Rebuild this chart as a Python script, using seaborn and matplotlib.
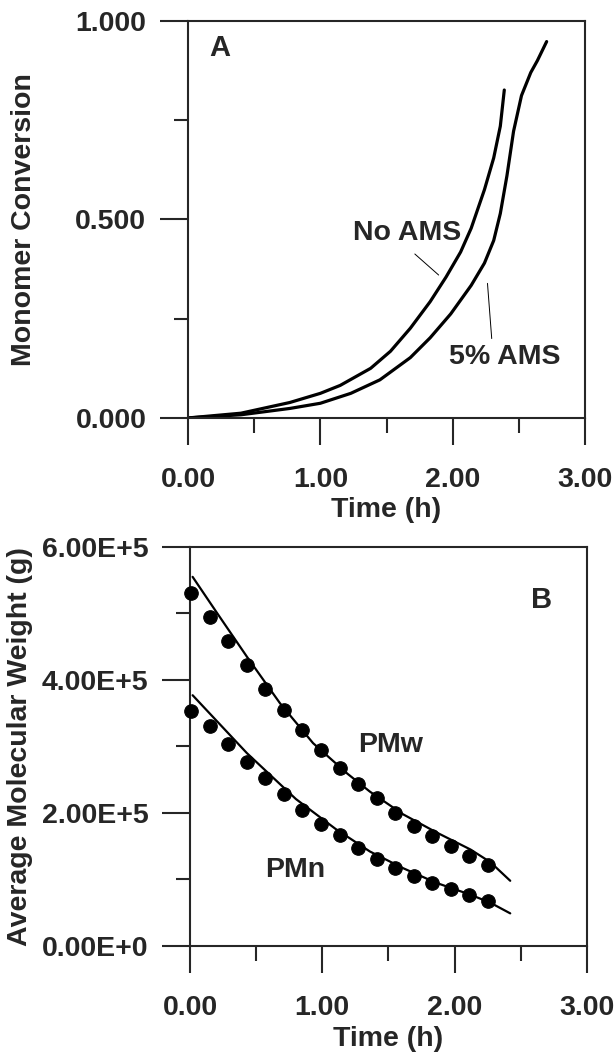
import pandas as pd
import matplotlib
matplotlib.use("Agg")
import matplotlib.pyplot as plt
from matplotlib.ticker import MultipleLocator, FuncFormatter
import seaborn as sns

# panel A - monomer conversion vs time
t_no_ams = [0, 0.4, 0.77, 1.0, 1.15, 1.38, 1.53, 1.68, 1.83, 1.95, 2.06, 2.14, 2.24, 2.31, 2.36, 2.39]
x_no_ams = [0, 0.012, 0.039, 0.062, 0.082, 0.125, 0.168, 0.226, 0.293, 0.355, 0.418, 0.478, 0.575, 0.655, 0.735, 0.826]
t_ams5 = [0, 0.4, 0.77, 1.0, 1.23, 1.45, 1.68, 1.83, 1.985, 2.14, 2.24, 2.31, 2.36, 2.41, 2.46, 2.52, 2.59, 2.64, 2.71]
x_ams5 = [0, 0.008, 0.024, 0.037, 0.062, 0.096, 0.152, 0.202, 0.262, 0.334, 0.39, 0.447, 0.515, 0.61, 0.722, 0.812, 0.870, 0.900, 0.948]

# panel B - average molecular weight (dots = data, lines = model)
t_dots = [0.01, 0.15, 0.29, 0.43, 0.57, 0.71, 0.85, 0.99, 1.13, 1.27, 1.41, 1.55, 1.69, 1.83, 1.97, 2.11, 2.25]
pmw_dots = [5.30, 4.95, 4.59, 4.22, 3.87, 3.55, 3.25, 2.95, 2.68, 2.43, 2.22, 2.00, 1.81, 1.65, 1.50, 1.36, 1.22]
pmn_dots = [3.53, 3.31, 3.03, 2.77, 2.52, 2.29, 2.04, 1.84, 1.67, 1.47, 1.31, 1.17, 1.05, 0.94, 0.85, 0.77, 0.67]
t_pmw_line = [0.02, 0.2, 0.43, 0.68, 0.93, 1.19, 1.36, 1.61, 1.86, 2.12, 2.27, 2.42]
pmw_line = [5.55, 5.02, 4.35, 3.65, 3.05, 2.59, 2.32, 1.98, 1.71, 1.45, 1.26, 0.98]
t_pmn_line = [0.02, 0.43, 0.80, 1.10, 1.36, 1.61, 1.86, 2.12, 2.27, 2.42]
pmn_line = [3.77, 2.90, 2.21, 1.76, 1.42, 1.17, 0.95, 0.77, 0.65, 0.49]

# leader lines for the panel A labels
lead_no_ams = ([1.714, 1.894], [0.413, 0.360])
lead_ams5 = ([2.263, 2.295], [0.339, 0.20])

sns.set_style("ticks")
plt.rcParams['font.family'] = ['Liberation Sans', 'DejaVu Sans']
plt.rcParams['font.weight'] = 'bold'
plt.rcParams['axes.labelweight'] = 'bold'
plt.rcParams['axes.linewidth'] = 1.5

fs = 20.5
fig = plt.figure(figsize=(6.16, 10.52), dpi=100)
ax1 = fig.add_axes([0.3052, 0.6027, 0.6445, 0.3774])
ax2 = fig.add_axes([0.3084, 0.1008, 0.6445, 0.3793])

dfA = pd.DataFrame({'t': t_no_ams + t_ams5,
                    'x': x_no_ams + x_ams5,
                    'run': ['No AMS'] * len(t_no_ams) + ['5% AMS'] * len(t_ams5)})
sns.lineplot(data=dfA, x='t', y='x', units='run', estimator=None, sort=False,
             color='black', lw=2.3, ax=ax1, legend=False)
ax1.plot(*lead_no_ams, color='black', lw=0.7)
ax1.plot(*lead_ams5, color='black', lw=0.7)
ax1.text(0.24, 0.932, 'A', fontsize=fs + 0.5, ha='center', va='center')
ax1.text(1.657, 0.466, 'No AMS', fontsize=fs, ha='center', va='center')
ax1.text(2.39, 0.154, '5% AMS', fontsize=fs, ha='center', va='center')
ax1.set_xlim(0, 3)
ax1.set_ylim(0, 1)
ax1.yaxis.set_major_locator(MultipleLocator(0.5))
ax1.yaxis.set_minor_locator(MultipleLocator(0.25))
ax1.yaxis.set_major_formatter(FuncFormatter(lambda v, p: f"{v:.3f}"))
ax1.set_ylabel('Monomer Conversion', fontsize=fs)
ax1.yaxis.set_label_coords(-0.38, 0.5)

dfB_line = pd.DataFrame({'t': t_pmw_line + t_pmn_line,
                         'M': [v * 1e5 for v in pmw_line + pmn_line],
                         'kind': ['PMw'] * len(t_pmw_line) + ['PMn'] * len(t_pmn_line)})
dfB_dots = pd.DataFrame({'t': t_dots + t_dots,
                         'M': [v * 1e5 for v in pmw_dots + pmn_dots]})
sns.lineplot(data=dfB_line, x='t', y='M', units='kind', estimator=None, sort=False,
             color='black', lw=1.6, ax=ax2, legend=False)
sns.scatterplot(data=dfB_dots, x='t', y='M', color='black', s=95, edgecolor='black',
                ax=ax2, clip_on=False, zorder=3)
ax2.text(2.66, 5.2e5, 'B', fontsize=fs + 0.5, ha='center', va='center')
ax2.text(1.515, 3.02e5, 'PMw', fontsize=fs, ha='center', va='center')
ax2.text(0.795, 1.14e5, 'PMn', fontsize=fs, ha='center', va='center')
ax2.set_xlim(0, 3)
ax2.set_ylim(0, 6e5)
ax2.yaxis.set_major_locator(MultipleLocator(2e5))
ax2.yaxis.set_minor_locator(MultipleLocator(1e5))
ax2.yaxis.set_major_formatter(FuncFormatter(
    lambda v, p: "0.00E+0" if v == 0 else f"{v / 1e5:.2f}E+5"))
ax2.set_ylabel('Average Molecular Weight (g)', fontsize=fs)
ax2.yaxis.set_label_coords(-0.395, 0.5)

for ax in (ax1, ax2):
    ax.xaxis.set_major_locator(MultipleLocator(1))
    ax.xaxis.set_minor_locator(MultipleLocator(0.5))
    ax.xaxis.set_major_formatter(FuncFormatter(lambda v, p: f"{v:.2f}"))
    ax.set_xlabel('Time (h)', fontsize=fs)
    ax.xaxis.set_label_coords(0.5, -0.2)
    ax.tick_params(axis='x', which='major', direction='out', length=19.5, width=1.5,
                   pad=16, labelsize=fs)
    ax.tick_params(axis='x', which='minor', direction='out', length=10.5, width=1.5)
    ax.tick_params(axis='y', which='major', direction='out', length=20, width=1.5,
                   pad=10, labelsize=fs)
    ax.tick_params(axis='y', which='minor', direction='out', length=10, width=1.5)
    for sp in ax.spines.values():
        sp.set_visible(True)
        sp.set_linewidth(1.5)

fig.savefig('out.png', dpi=100)
